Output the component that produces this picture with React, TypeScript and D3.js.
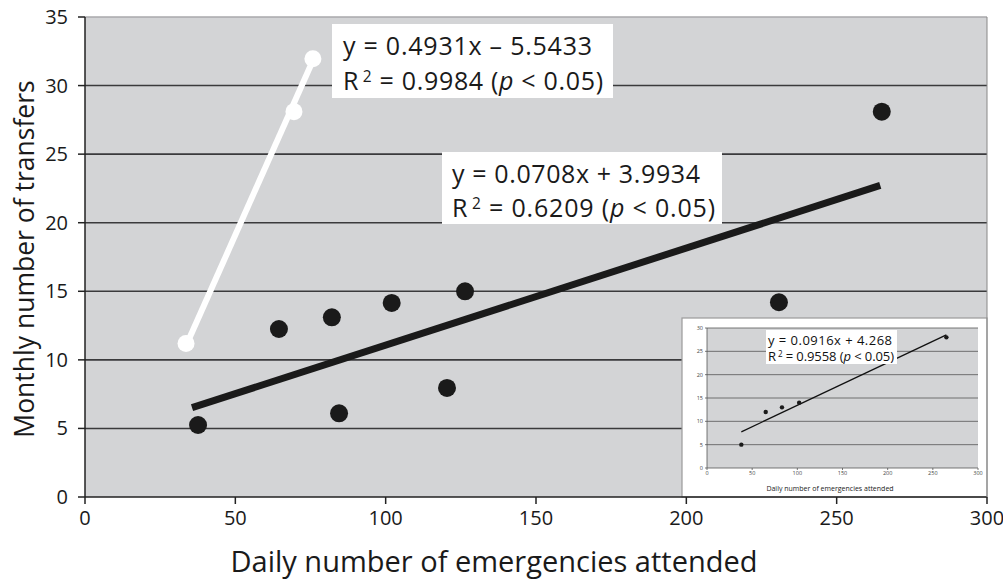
import React from 'react';
import * as d3 from 'd3';

// main scatter (black points)
const emergencies = [37.6, 64.5, 82.1, 84.5, 102, 120.4, 126.4, 230.8, 265];
const transfers = [5.25, 12.25, 13.1, 6.1, 14.15, 7.95, 15.0, 14.2, 28.1];
// white series
const whiteX = [33.6, 69.5, 75.8];
const whiteY = [11.2, 28.1, 31.95];
// inset series
const insetX = [38, 65, 83, 102, 265];
const insetY = [5, 12, 13, 14, 28];

const xTicks = [0, 50, 100, 150, 200, 250, 300];
const yTicks = [0, 5, 10, 15, 20, 25, 30, 35];
const insetYTicks = [0, 5, 10, 15, 20, 25, 30];

// regression fits (slope, intercept, x-extent)
const blackFit = { m: 0.0708, b: 3.9934, from: 35.6, to: 264.5 };
const whiteFit = { m: 0.4931, b: -5.5433, from: 33.6, to: 75.8 };
const insetFit = { m: 0.0916, b: 4.268, from: 38, to: 265 };

const FONT = "'Open Sans', 'Noto Sans', sans-serif";

function R2Label({ x, y, r2, size, len }: { x: number; y: number; r2: string; size: number; len?: number }) {
  return (
    <text x={x} y={y} fontSize={size} textLength={len} lengthAdjust="spacing">
      <tspan>R</tspan>
      <tspan dx={size * 0.15} fontSize={size * 0.62} dy={-size * 0.33}>2</tspan>
      <tspan dy={size * 0.33}>{` = ${r2} (`}</tspan>
      <tspan fontStyle="italic">p</tspan>
      <tspan>{' < 0.05)'}</tspan>
    </text>
  );
}

export default function App() {
  const W = 1003, H = 579;
  const x = d3.scaleLinear().domain([0, 300]).range([85, 987]);
  const y = d3.scaleLinear().domain([0, 35]).range([497, 17]);

  const ix = d3.scaleLinear().domain([0, 300]).range([707, 978]);
  const iy = d3.scaleLinear().domain([0, 30]).range([468, 328]);

  const fitLine = (f: { m: number; b: number; from: number; to: number }, sx: any, sy: any) =>
    d3.line<number>().x(d => sx(d)).y(d => sy(f.m * d + f.b))([f.from, f.to]) || '';

  return (
    <svg width={W} height={H} style={{ position: 'absolute', left: 0, top: 0, fontFamily: FONT }}>
      <rect width={W} height={H} fill="#fff" />
      {/* plot background */}
      <rect x={x(0)} y={y(35)} width={x(300) - x(0)} height={y(0) - y(35)} fill="#d3d4d6" />
      <line x1={x(0)} x2={x(300)} y1={y(35)} y2={y(35)} stroke="#a9a9ab" strokeWidth={1.5} />
      {yTicks.filter(t => t > 0 && t < 35).map(t => (
        <line key={t} x1={x(0)} x2={x(300)} y1={y(t)} y2={y(t)} stroke="#3a3a3c" strokeWidth={1.6} />
      ))}

      {/* inset */}
      <g>
        <rect x={682} y={318} width={305} height={179} fill="#fff" stroke="#9a9a9a" strokeWidth={1.2} />
        <rect x={ix(0)} y={iy(30)} width={ix(300) - ix(0)} height={iy(0) - iy(30)} fill="#d3d4d6" />
        {insetYTicks.filter(t => t > 0).map(t => (
          <line key={t} x1={ix(0)} x2={ix(300)} y1={iy(t)} y2={iy(t)} stroke="#555" strokeWidth={0.8} />
        ))}
        <line x1={ix(0)} x2={ix(0)} y1={iy(30)} y2={iy(0)} stroke="#555" strokeWidth={0.8} />
        <line x1={ix(0)} x2={ix(300)} y1={iy(0)} y2={iy(0)} stroke="#555" strokeWidth={0.8} />
        {insetYTicks.map(t => (
          <g key={t}>
            <line x1={ix(0) - 2} x2={ix(0)} y1={iy(t)} y2={iy(t)} stroke="#555" strokeWidth={0.8} />
            <text x={ix(0) - 4} y={iy(t)} dy="0.35em" fontSize={5.5} textAnchor="end" fill="#444">{t}</text>
          </g>
        ))}
        {xTicks.map(t => (
          <g key={t}>
            <line x1={ix(t)} x2={ix(t)} y1={iy(0)} y2={iy(0) + 2} stroke="#555" strokeWidth={0.8} />
            <text x={ix(t)} y={iy(0) + 7} fontSize={5.5} textAnchor="middle" fill="#444">{t}</text>
          </g>
        ))}
        <text x={830} y={491} fontSize={7} textAnchor="middle" fill="#222">Daily number of emergencies attended</text>
        <path d={fitLine(insetFit, ix, iy)} stroke="#111" strokeWidth={1.3} fill="none" />
        {insetX.map((v, i) => (
          <circle key={i} cx={ix(v)} cy={iy(insetY[i])} r={2.2} fill="#1a1a1a" />
        ))}
        <rect x={766} y={330} width={131} height={34} fill="#fff" />
        <text x={768} y={345} fontSize={13} fill="#111" textLength={124} lengthAdjust="spacing">y = 0.0916x + 4.268</text>
        <g fill="#111"><R2Label x={768} y={361} r2="0.9558" size={13} len={126} /></g>
      </g>

      {/* axes */}
      <line x1={x(0)} x2={x(0)} y1={y(35)} y2={y(0)} stroke="#222" strokeWidth={1.5} />
      <line x1={x(0)} x2={x(300)} y1={y(0)} y2={y(0)} stroke="#222" strokeWidth={1.5} />
      <line x1={x(300)} x2={x(300)} y1={y(35)} y2={y(0)} stroke="#888" strokeWidth={1} />
      {yTicks.map(t => (
        <g key={t}>
          <line x1={x(0) - 7} x2={x(0)} y1={y(t)} y2={y(t)} stroke="#222" strokeWidth={1.5} />
          <text x={x(0) - 17} y={y(t)} dy="0.35em" fontSize={20} textAnchor="end" fill="#1a1a1a">{t}</text>
        </g>
      ))}
      {xTicks.map(t => (
        <g key={t}>
          <line x1={x(t)} x2={x(t)} y1={y(0)} y2={y(0) + 7} stroke="#222" strokeWidth={1.5} />
          <text x={x(t)} y={y(0) + 28} fontSize={20} textAnchor="middle" fill="#1a1a1a">{t}</text>
        </g>
      ))}
      <text x={494} y={572} fontSize={29} textAnchor="middle" fill="#1a1a1a">Daily number of emergencies attended</text>
      <text transform="translate(34,259) rotate(-90)" fontSize={26.5} textAnchor="middle" fill="#1a1a1a">Monthly number of transfers</text>

      {/* black fit + points */}
      <path d={fitLine(blackFit, x, y)} stroke="#1a1a1a" strokeWidth={7} fill="none" />
      {emergencies.map((v, i) => (
        <circle key={i} cx={x(v)} cy={y(transfers[i])} r={9} fill="#1a1a1a" />
      ))}

      {/* white fit + points */}
      <path d={fitLine(whiteFit, x, y)} stroke="#fff" strokeWidth={6} fill="none" />
      {whiteX.map((v, i) => (
        <circle key={i} cx={x(v)} cy={y(whiteY[i])} r={8.5} fill="#fff" />
      ))}

      {/* equation labels */}
      <rect x={332} y={24} width={281} height={74} fill="#fff" />
      <text x={343} y={55} fontSize={25} fill="#1a1a1a" textLength={249} lengthAdjust="spacing">y = 0.4931x – 5.5433</text>
      <g fill="#1a1a1a"><R2Label x={343} y={90} r2="0.9984" size={25} len={260} /></g>

      <rect x={442} y={152} width={280} height={72} fill="#fff" />
      <text x={452} y={183} fontSize={25} fill="#1a1a1a" textLength={248} lengthAdjust="spacing">y = 0.0708x + 3.9934</text>
      <g fill="#1a1a1a"><R2Label x={452} y={217} r2="0.6209" size={25} len={263} /></g>
    </svg>
  );
}
